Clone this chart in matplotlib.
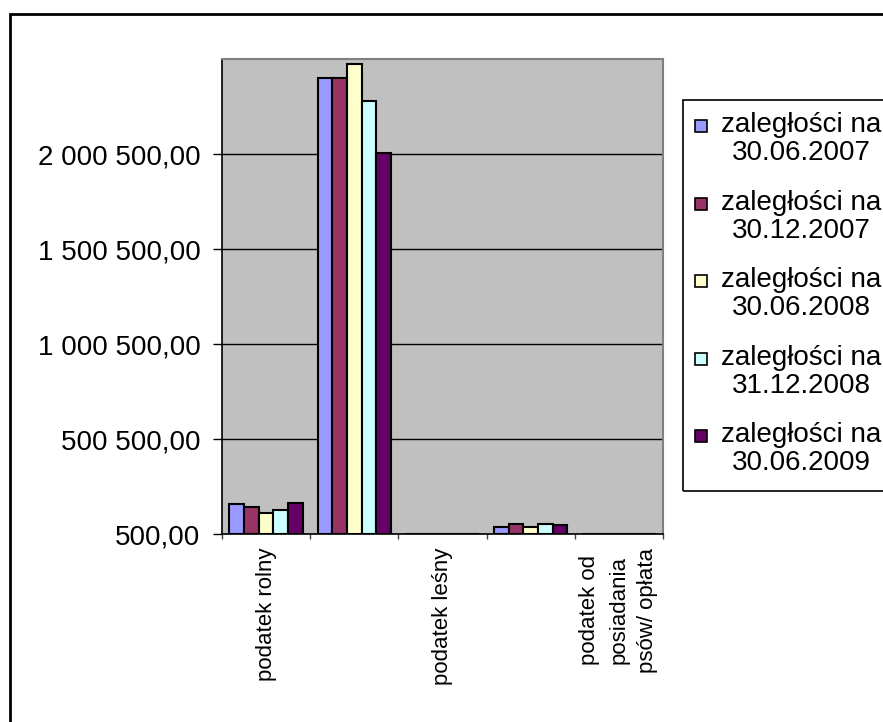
import numpy as np
import matplotlib
matplotlib.use('Agg')
import matplotlib.pyplot as plt
from matplotlib.patches import Rectangle
from matplotlib.ticker import FixedLocator, FuncFormatter


#Data
categories = ['podatek rolny', 'podatek od nieruchomości', 'podatek leśny',
	'podatek od środków transportowych', 'podatek od\nposiadania\npsów/ opłata']
shown_labels = ['podatek rolny', '', 'podatek leśny', '', 'podatek od\nposiadania\npsów/ opłata']

series_names = ['zaległości na\n30.06.2007', 'zaległości na\n30.12.2007', 'zaległości na\n30.06.2008',
	'zaległości na\n31.12.2008', 'zaległości na\n30.06.2009']

z_2007_06 = [156000, 2398000, 300, 38000, 200]
z_2007_12 = [144000, 2398000, 300, 51000, 200]
z_2008_06 = [112000, 2472000, 300, 35000, 200]
z_2008_12 = [125000, 2280000, 300, 51000, 200]
z_2009_06 = [165000, 2007000, 300, 49000, 200]

y_ticks = [500, 500500, 1000500, 1500500, 2000500]
y_min = 500
y_max = 2500500

colors = ['#9999FF', '#993366', '#FFFFCC', '#CCFFFF', '#660066']


def pl_format(v, pos):
	#2 000 500,00 style
	s = '{:,.2f}'.format(v)
	return s.replace(',', ' ').replace('.', ',')


def main():

	plt.rcParams['font.family'] = ['Liberation Sans', 'DejaVu Sans']
	W, H = 883, 722
	fig = plt.figure(figsize=(W/100, H/100), dpi=100)

	ax = fig.add_axes([222/W, 1 - 534/H, (663-222)/W, (534-59)/H])
	ax.set_facecolor('#C0C0C0')

	data = [z_2007_06, z_2007_12, z_2008_06, z_2008_12, z_2009_06]
	x = np.arange(len(categories))
	w = 1/6
	for j in range(len(data)):
		ax.bar(x + (j-2)*w, data[j], width=w, color=colors[j], edgecolor='black', linewidth=1.5, zorder=3)

	ax.set_xlim(-0.5, len(categories) - 0.5)
	ax.set_ylim(y_min, y_max)

	#y axis
	ax.set_yticks(y_ticks)
	ax.yaxis.set_major_formatter(FuncFormatter(pl_format))
	ax.tick_params(axis='y', direction='out', length=6.5, width=1, pad=9, labelsize=20, colors='black')
	ax.yaxis.grid(True, color='black', linewidth=1)
	ax.set_axisbelow(True)

	#x axis: ticks on boundaries, labels in between
	ax.xaxis.set_major_locator(FixedLocator(np.arange(len(categories)+1) - 0.5))
	ax.set_xticklabels([])
	ax.xaxis.set_minor_locator(FixedLocator(x))
	ax.set_xticklabels(shown_labels, minor=True, rotation=90, fontsize=16, va='top', ha='center',
		multialignment='center', linespacing=1.5)
	ax.tick_params(axis='x', which='major', direction='out', length=3.6, width=1, color='#404040')
	ax.tick_params(axis='x', which='minor', length=0, pad=10)

	for side in ['top', 'right']:
		ax.spines[side].set_color('#808080')
		ax.spines[side].set_linewidth(1.5)
	for side in ['left', 'bottom']:
		ax.spines[side].set_color('black')
		ax.spines[side].set_linewidth(1.2)

	#outer chart border (cut at right and bottom like the original)
	fig.patches.append(Rectangle((10/W, -0.1), 1.2, 1.1 - 14/H, transform=fig.transFigure,
		fill=False, edgecolor='black', linewidth=2))

	#legend box, drawn by hand so the swatch sits on the first line
	fig.patches.append(Rectangle((683/W, 1 - 491/H), 0.5, (491-100)/H, transform=fig.transFigure,
		fill=False, edgecolor='black', linewidth=1.2))
	for k in range(len(series_names)):
		y_top = 120 + 77.5*k
		fig.patches.append(Rectangle((695/W, 1 - (y_top+12)/H), 12/W, 12/H, transform=fig.transFigure,
			facecolor=colors[k], edgecolor='black', linewidth=1.2))
		fig.text(721/W, 1 - (y_top-8)/H, series_names[k], fontsize=20, ha='left', va='top',
			multialignment='center', linespacing=1.1)

	plt.savefig('out.png', dpi=100)

	return


if __name__ == "__main__": main()
